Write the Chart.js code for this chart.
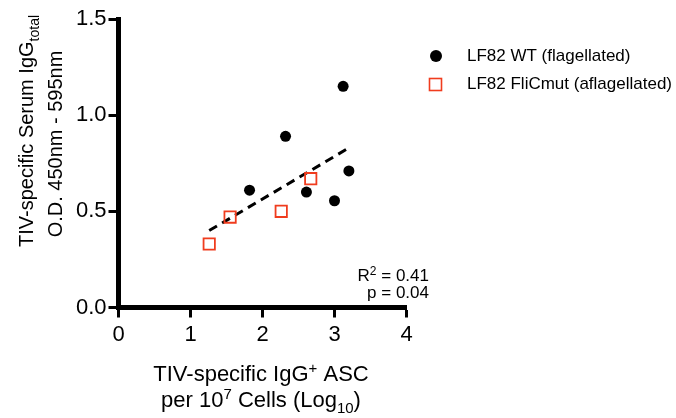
<!DOCTYPE html>
<html>
<head>
<meta charset="utf-8">
<script src="https://cdn.jsdelivr.net/npm/chart.js@4.4.1/dist/chart.umd.min.js"></script>
<style>
  body { margin: 0; background: #fff; }
  #wrap { width: 676px; height: 418px; }
</style>
</head>
<body>
<div id="wrap"><canvas id="chart" width="676" height="418"></canvas></div>
<script>
// --- data ---
const wtLabel = "LF82 WT (flagellated)";
const wtX = [1.82, 2.32, 2.61, 3.12, 3.00, 3.20];
const wtY = [0.61, 0.89, 0.60, 1.15, 0.555, 0.71];

const mutLabel = "LF82 FliCmut (aflagellated)";
const mutX = [1.26, 1.55, 2.26, 2.67];
const mutY = [0.33, 0.47, 0.50, 0.67];

// regression line end points
const fitX = [1.26, 3.20];
const fitY = [0.40, 0.83];

const xTicks = [0, 1, 2, 3, 4];
const yTicks = [0.0, 0.5, 1.0, 1.5];

const statLines = ["R² = 0.41", "p = 0.04"];

const FONT = "'Liberation Sans', Arial, sans-serif";
const RED = "#f03c1e";

const toPoints = (xs, ys) => xs.map((x, i) => ({ x, y: ys[i] }));

// draw a line of text with sub/superscript parts, centered or right-aligned
function drawRich(ctx, parts, x, y, size, align) {
  const small = Math.round(size * 0.68);
  let w = 0;
  parts.forEach((p) => {
    ctx.font = (p.s === "n" ? size : small) + "px " + FONT;
    p.w = ctx.measureText(p.t).width;
    w += p.w;
  });
  let cx = align === "right" ? x - w : x - w / 2;
  ctx.textAlign = "left";
  ctx.textBaseline = "alphabetic";
  parts.forEach((p) => {
    ctx.font = (p.s === "n" ? size : small) + "px " + FONT;
    let dy = 0;
    if (p.s === "sup") dy = -size * 0.38;
    if (p.s === "sub") dy = size * 0.28;
    ctx.fillText(p.t, cx, y + dy);
    cx += p.w;
  });
}

const annotations = {
  id: "annotations",
  afterDraw(chart) {
    const ctx = chart.ctx;
    ctx.save();
    ctx.fillStyle = "#000";

    // x axis title
    drawRich(ctx, [
      { t: "TIV-specific IgG", s: "n" }, { t: "+", s: "sup" }, { t: " ASC", s: "n" },
    ], 261, 381, 22);
    drawRich(ctx, [
      { t: "per 10", s: "n" }, { t: "7", s: "sup" }, { t: " Cells (Log", s: "n" },
      { t: "10", s: "sub" }, { t: ")", s: "n" },
    ], 261, 407, 22);

    // y axis title (rotated)
    ctx.save();
    ctx.translate(33, 131);
    ctx.rotate(-Math.PI / 2);
    drawRich(ctx, [
      { t: "TIV-specific Serum IgG", s: "n" }, { t: "total", s: "sub" },
    ], 0, 0, 20);
    ctx.restore();
    ctx.save();
    ctx.translate(62, 144);
    ctx.rotate(-Math.PI / 2);
    drawRich(ctx, [{ t: "O.D. 450nm - 595nm", s: "n" }], 0, 0, 20);
    ctx.restore();

    // statistics
    drawRich(ctx, [
      { t: "R", s: "n" }, { t: "2", s: "sup" }, { t: statLines[0].slice(2), s: "n" },
    ], 429, 281, 17, "right");
    drawRich(ctx, [{ t: statLines[1], s: "n" }], 429, 298, 17, "right");

    // legend
    ctx.beginPath();
    ctx.arc(436, 56, 6, 0, Math.PI * 2);
    ctx.fill();
    ctx.strokeStyle = RED;
    ctx.lineWidth = 1.6;
    ctx.strokeRect(429.5, 78.5, 12, 12);
    ctx.font = "17px " + FONT;
    ctx.textBaseline = "middle";
    ctx.textAlign = "left";
    ctx.fillText(chart.data.datasets[0].label, 467, 56);
    ctx.fillText(chart.data.datasets[1].label, 467, 84);
    ctx.restore();
  },
};

new Chart(document.getElementById("chart"), {
  type: "scatter",
  data: {
    datasets: [
      {
        label: wtLabel,
        data: toPoints(wtX, wtY),
        pointStyle: "circle",
        pointRadius: 5.5,
        backgroundColor: "#000",
        borderColor: "#000",
        borderWidth: 0,
      },
      {
        label: mutLabel,
        data: toPoints(mutX, mutY),
        pointStyle: "rect",
        pointRadius: 8,
        backgroundColor: "rgba(255,255,255,0)",
        borderColor: RED,
        borderWidth: 1.8,
      },
      {
        label: "fit",
        data: toPoints(fitX, fitY),
        showLine: true,
        pointRadius: 0,
        borderColor: "#000",
        borderWidth: 3,
        borderDash: [9, 6],
      },
    ],
  },
  options: {
    responsive: false,
    animation: false,
    layout: { padding: { left: 0, top: 19, right: 269.5, bottom: 0 } },
    plugins: { legend: { display: false }, tooltip: { enabled: false } },
    scales: {
      x: {
        type: "linear",
        min: 0,
        max: 4,
        afterFit: (s) => { s.height = 110.5; },
        afterBuildTicks: (s) => { s.ticks = xTicks.map((v) => ({ value: v })); },
        border: { display: true, color: "#000", width: 5 },
        grid: { drawOnChartArea: false, drawTicks: true, tickLength: 10, tickWidth: 3, tickColor: "#000" },
        ticks: { color: "#000", padding: 4, font: { family: FONT, size: 22 }, callback: (v) => String(v) },
      },
      y: {
        type: "linear",
        min: 0,
        max: 1.5,
        afterFit: (s) => { s.width = 118.5; },
        afterBuildTicks: (s) => { s.ticks = yTicks.map((v) => ({ value: v })); },
        border: { display: true, color: "#000", width: 5 },
        grid: { drawOnChartArea: false, drawTicks: true, tickLength: 10, tickWidth: 3, tickColor: "#000" },
        ticks: { color: "#000", padding: 2, font: { family: FONT, size: 22 }, callback: (v) => v.toFixed(1) },
      },
    },
  },
  plugins: [annotations],
});
</script>
</body>
</html>
